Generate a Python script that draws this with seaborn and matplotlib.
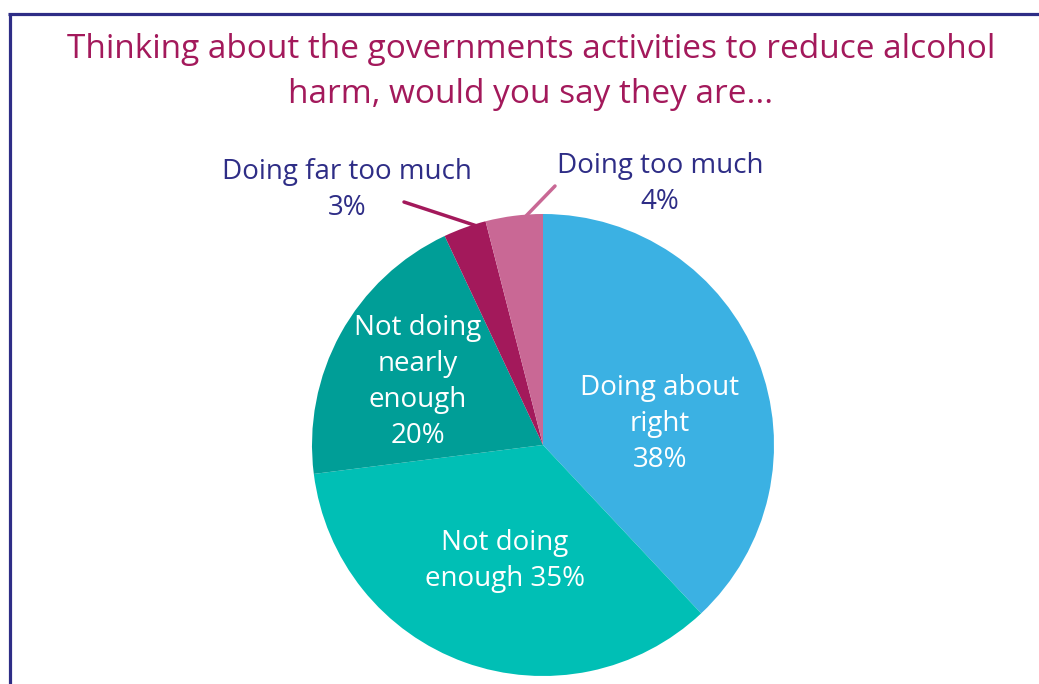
import matplotlib
matplotlib.use("Agg")
import matplotlib.pyplot as plt
import seaborn as sns
import numpy as np

categories = ["Doing about right", "Not doing enough", "Not doing nearly enough",
              "Doing far too much", "Doing too much"]
values = [38, 35, 20, 3, 4]
inside_labels = ["Doing about\nright\n38%", "Not doing\nenough 35%", "Not doing\nnearly\nenough\n20%"]
outside_labels = ["Doing far too much\n3%", "Doing too much\n4%"]
colors = ["#3bb1e3", "#00bfb5", "#009e97", "#a3195b", "#c96895"]
title = "Thinking about the governments activities to reduce alcohol\nharm, would you say they are..."

sns.set_theme(style="white")
plt.rcParams['font.family'] = ['Open Sans', 'DejaVu Sans']

W, H = 1039, 684
fig = plt.figure(figsize=(W / 100, H / 100), dpi=100)
ax = fig.add_axes([0, 0, 1, 1])

def Y(y):
    return H - y

cx, cy, r = 543, 445, 231
wedges, _ = ax.pie(values, colors=colors, startangle=90, counterclock=False,
                   center=(cx, Y(cy)), radius=r, frame=True,
                   wedgeprops=dict(linewidth=0))
ax.set_xlim(0, W)
ax.set_ylim(0, H)
ax.set_aspect("equal")
ax.axis("off")

navy = "#2e2d86"
# frame
ax.plot([8, W], [Y(14), Y(14)], color=navy, lw=2.3, solid_capstyle="butt")
ax.plot([9.5, 9.5], [Y(14), 0], color=navy, lw=2.3, solid_capstyle="butt")

ax.text(531, Y(72), title, ha="center", va="center", color="#a3195b",
        fontsize=24, linespacing=1.46)

# inside labels
pos_in = [(660, 424), (505, 561), (418, 382)]
for txt, (x, y) in zip(inside_labels, pos_in):
    ax.text(x, Y(y), txt, ha="center", va="center", color="white",
            fontsize=20, linespacing=1.38)

# outside labels
pos_out = [(347, 190), (660, 184)]
for txt, (x, y) in zip(outside_labels, pos_out):
    ax.text(x, Y(y), txt, ha="center", va="center", color=navy,
            fontsize=20, linespacing=1.38)

ax.plot([404, 477], [Y(202), Y(226)], color=colors[3], lw=2.5)
ax.plot([555, 526], [Y(186), Y(216)], color=colors[4], lw=2.5)

fig.savefig("out.png", dpi=100, facecolor="white")
